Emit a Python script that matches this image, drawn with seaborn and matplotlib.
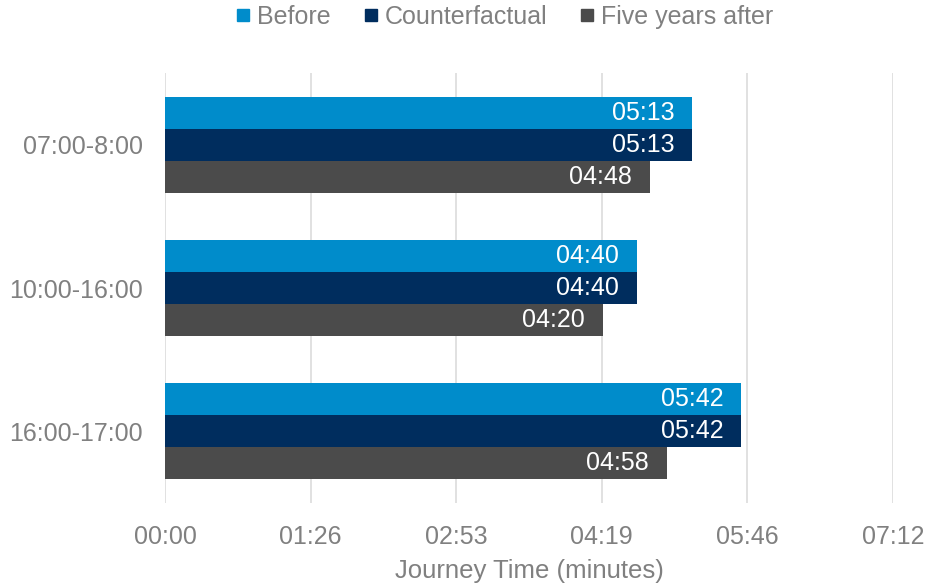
import matplotlib
matplotlib.use("Agg")
import matplotlib.pyplot as plt
from matplotlib.lines import Line2D
from matplotlib.ticker import FixedLocator, FuncFormatter
import pandas as pd
import seaborn as sns

# Journey times in seconds, by time band
periods = ["07:00-8:00", "10:00-16:00", "16:00-17:00"]
series = ["Before", "Counterfactual", "Five years after"]
before = [313, 280, 342]
counterfactual = [313, 280, 342]
five_years_after = [288, 260, 298]
colors = ["#008CCB", "#002D5E", "#4B4B4B"]
# Axis ticks every 0.001 day (86.4 s), as a spreadsheet time axis would place them
tick_seconds = [0, 86.4, 172.8, 259.2, 345.6, 432]

rows = []
for name, vals in zip(series, [before, counterfactual, five_years_after]):
    for p, v in zip(periods, vals):
        rows.append({"period": p, "series": name, "seconds": v})
df = pd.DataFrame(rows)


def mmss(sec, _pos=None):
    s = int(round(sec))
    return f"{s // 60:02d}:{s % 60:02d}"


sns.set_theme(style="white")
plt.rcParams["font.family"] = ["Liberation Sans", "DejaVu Sans"]

fig = plt.figure(figsize=(9.26, 5.85), dpi=100)
ax = fig.add_axes([165 / 926, 82 / 585, 728 / 926, 430 / 585])

sns.barplot(data=df, y="period", x="seconds", hue="series", order=periods,
            hue_order=series, palette=colors, saturation=1, width=0.67,
            orient="h", ax=ax, legend=False, linewidth=0)

# value labels inside the end of each bar
for container, vals in zip(ax.containers, [before, counterfactual, five_years_after]):
    for bar, v in zip(container, vals):
        y = bar.get_y() + bar.get_height() / 2
        ax.annotate(mmss(v), xy=(v, y), xytext=(-13, 0), textcoords="offset points",
                    ha="right", va="center", color="white", fontsize=18)

ax.set_xlim(0, 432)
ax.xaxis.set_major_locator(FixedLocator(tick_seconds))
ax.xaxis.set_major_formatter(FuncFormatter(mmss))
ax.grid(axis="x", color="#DEDEDE", linewidth=1.3)
ax.grid(axis="y", visible=False)
ax.set_axisbelow(True)
for sp in ax.spines.values():
    sp.set_visible(False)

ax.tick_params(axis="both", length=0, labelsize=18, labelcolor="#808080")
ax.tick_params(axis="y", pad=16)
ax.tick_params(axis="x", pad=16)
ax.set_ylabel("")
ax.set_xlabel("Journey Time (minutes)", fontsize=18.5, color="#808080", labelpad=7)

handles = [Line2D([], [], marker="s", linestyle="none", markersize=9,
                  markerfacecolor=c, markeredgecolor=c) for c in colors]
leg = fig.legend(handles, series, loc="center", bbox_to_anchor=(503 / 926, 1 - 17 / 585),
                 ncol=3, frameon=False, fontsize=18, handletextpad=0.15,
                 columnspacing=1.2, handlelength=0.8)
for t in leg.get_texts():
    t.set_color("#808080")

fig.savefig("out.png", dpi=100)
